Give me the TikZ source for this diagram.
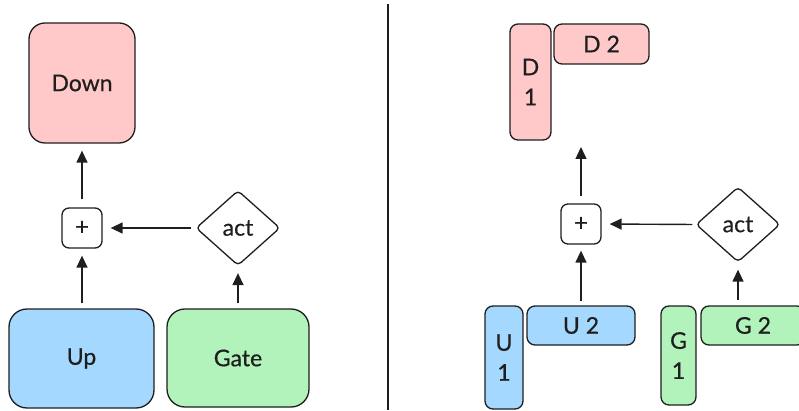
\documentclass[tikz,border=0pt]{standalone}
\usepackage{fontspec}
\setmainfont{Lato}[FakeBold=0.5]
\usetikzlibrary{shapes.geometric,arrows.meta}
\definecolor{ink}{HTML}{1E1E1E}
\definecolor{pinkf}{HTML}{FFC9C9}
\definecolor{bluef}{HTML}{A5D8FF}
\definecolor{greenf}{HTML}{B2F2BB}
\begin{document}
\begin{tikzpicture}[x=1pt,y=-1pt,
  blk/.style={draw=ink,line width=1.3pt,inner sep=0pt,text=ink,
    font=\fontsize{23}{30}\selectfont,align=center},
  bigbox/.style={blk,rounded corners=16pt},
  smallbox/.style={blk,rounded corners=8pt},
  plusbox/.style={blk,rounded corners=7pt,minimum width=40pt,minimum height=40pt,
    font=\fontsize{24}{26}\selectfont},
  actd/.style={blk,diamond,rounded corners=4pt,minimum width=84pt,minimum height=75pt},
  conn/.style={draw=ink,line width=1.4pt,-{Triangle[length=12pt,width=11pt]},
    shorten <=5pt,shorten >=7pt},
  sep/.style={draw=ink,line width=1.3pt}
]
\useasboundingbox (0,0) rectangle (799,411);
\clip (0,0) rectangle (799,411);

% ---------- left ----------
\node[bigbox,fill=pinkf,minimum width=106pt,minimum height=120pt] (down) at (82,83) {Down};
\node[plusbox] (plus) at (82,228) {+};
\node[actd] (act) at (238,228) {act};
\node[bigbox,rounded corners=18pt,fill=bluef,minimum width=145pt,minimum height=99pt] (up) at (81.5,358.5) {Up};
\node[bigbox,rounded corners=18pt,fill=greenf,minimum width=142pt,minimum height=98pt] (gate) at (238,358) {Gate};

\draw[conn] (up.north -| plus) -- (plus.south);
\draw[conn,shorten >=8pt,shorten <=4pt] (act.west) -- (plus.east);
\draw[conn,shorten <=8pt] (plus.north) -- (down.south -| plus);
\draw[conn] (gate.north -| act) -- (act.south);

% divider
\coordinate (st) at (388,4);
\coordinate (sb) at (388,410);
\draw[sep] (st) -- (sb);

% ---------- right ----------
\node[smallbox,fill=pinkf,minimum width=41pt,minimum height=116pt] (d1) at (530.5,82) {D\\1};
\node[smallbox,fill=pinkf,minimum width=95pt,minimum height=40pt] (d2) at (601.5,44) {D 2};
\node[plusbox] (plus2) at (581,224) {+};
\node[actd] (act2) at (738,224.5) {act};
\node[smallbox,fill=bluef,minimum width=38pt,minimum height=103pt] (u1) at (504,357.5) {U\\1};
\node[smallbox,fill=bluef,minimum width=108pt,minimum height=39pt] (u2) at (581,325.5) {U 2};
\node[smallbox,fill=greenf,minimum width=35pt,minimum height=99pt] (g1) at (678.5,355.5) {G\\1};
\node[smallbox,fill=greenf,minimum width=104pt,minimum height=39pt] (g2) at (753,325.5) {G 2};

\coordinate (dtarget) at (581,140);
\draw[conn,shorten <=4pt,shorten >=6pt] (u2.north -| plus2) -- (plus2.south);
\draw[conn,shorten >=8pt,shorten <=3pt] (act2.west) -- (plus2.east);
\draw[conn,shorten <=7pt] (plus2.north) -- (dtarget);
\draw[conn] (g2.north -| act2) -- (act2.south);
\end{tikzpicture}
\end{document}
